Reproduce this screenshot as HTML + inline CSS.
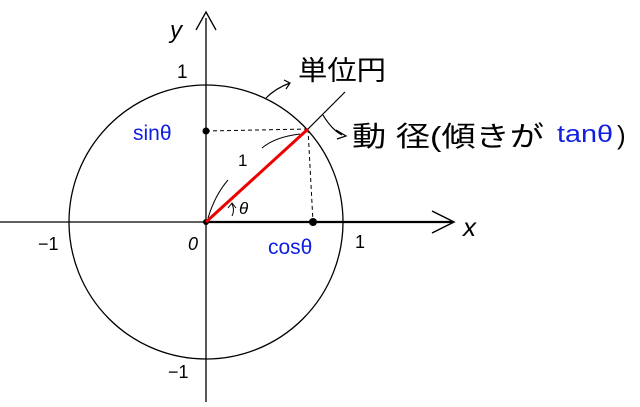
<!DOCTYPE html>
<html><head><style>body{margin:0;background:#fff}svg{display:block}
text{font-family:"Liberation Sans","Noto Sans CJK JP",sans-serif}</style></head>
<body>
<svg width="640" height="407" viewBox="0 0 640 407" xmlns="http://www.w3.org/2000/svg">
<rect width="640" height="407" fill="#fff"/>
<circle cx="206" cy="222" r="137" fill="none" stroke="#000" stroke-width="1.3"/>
<line x1="0" y1="222" x2="206" y2="222" stroke="#000" stroke-width="1.3"/>
<line x1="206" y1="222" x2="452" y2="222" stroke="#000" stroke-width="2.2"/>
<polyline points="432,211 454,222 432,233" fill="none" stroke="#000" stroke-width="1.5"/>
<line x1="206" y1="18" x2="206" y2="402" stroke="#000" stroke-width="1.3"/>
<polyline points="196,30 206,12 216,30" fill="none" stroke="#000" stroke-width="1.3"/>
<line x1="206" y1="131" x2="308" y2="129" stroke="#000" stroke-width="1" stroke-dasharray="4,3"/>
<line x1="308" y1="129" x2="313" y2="222" stroke="#000" stroke-width="1" stroke-dasharray="4,3"/>
<circle cx="206" cy="131" r="3.5"/><circle cx="313" cy="222" r="4"/><circle cx="206" cy="222" r="3"/>
<line x1="308" y1="129" x2="345" y2="92" stroke="#000" stroke-width="1.2"/>
<line x1="206" y1="222" x2="308" y2="129" stroke="#e00" stroke-width="3"/>
<path d="M266,98 Q276,88 290,83 M284,80 L290,83 L286,89" fill="none" stroke="#000" stroke-width="1.2"/>
<path d="M323,115 Q332,130 342,135 M336,130 L346,136 L337,139" fill="none" stroke="#000" stroke-width="1.2"/>
<path d="M262,148 Q275,137 300,134" fill="none" stroke="#000" stroke-width="1"/>
<path d="M208,218 Q215,195 228,180" fill="none" stroke="#000" stroke-width="1"/>
<path d="M232,216 Q235,210 232,204 M228,208 L232,203 L236,208" fill="none" stroke="#000" stroke-width="1"/>
<text x="239" y="214" font-size="17" font-style="italic">θ</text>
<text x="238" y="166" font-size="17">1</text>
<text x="298" y="80" font-size="27" textLength="88" lengthAdjust="spacingAndGlyphs">単位円</text>
<text x="352" y="146" font-size="28" textLength="192" lengthAdjust="spacingAndGlyphs">動 径(傾きが</text>
<text x="557" y="142" font-size="24" fill="#1020e0" textLength="56" lengthAdjust="spacingAndGlyphs">tanθ</text>
<text x="617" y="144" font-size="26">)</text>
<text x="133" y="140" font-size="21" fill="#1020e0">sinθ</text>
<text x="268" y="254" font-size="21" fill="#1020e0">cosθ</text>
<text x="170" y="38" font-size="24" font-style="italic">y</text>
<text x="463" y="236" font-size="26" font-style="italic">x</text>
<text x="177" y="78" font-size="19">1</text>
<text x="188" y="250" font-size="18" font-style="italic">0</text>
<text x="38" y="250" font-size="18">−1</text>
<text x="355" y="248" font-size="18">1</text>
<text x="168" y="378" font-size="18">−1</text>
</svg>
</body></html>
